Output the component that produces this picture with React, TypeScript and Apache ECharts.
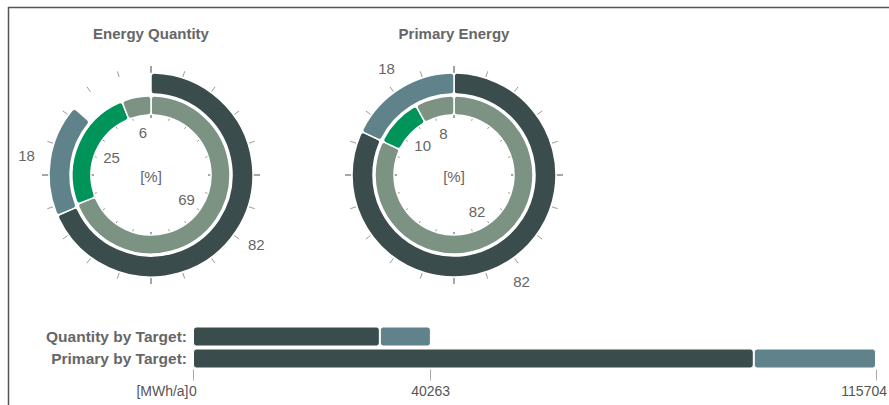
import React, { useEffect, useRef } from 'react';
import * as echarts from 'echarts';

// ---- data ----
const ringTitles = ['Energy Quantity', 'Primary Energy'];
const ringUnit = '[%]';
const innerColors = ['#7c9383', '#00935a', '#7c9383'];
const outerColors = ['#3a4c4b', '#60828a'];

const quantityInnerValues = [69, 25, 6];
const quantityOuterLabels = [82, 18];
const quantityOuterArcs = [68.5, 17.9]; // angular share of the circle as drawn

const primaryInnerValues = [82, 10, 8];
const primaryOuterValues = [82, 18];

const barCategories = ['Quantity by Target:', 'Primary by Target:'];
const barByTarget = [31650, 95000];
const barAboveTarget = [8650, 20704];
const axisTickValues = [0, 40263, 115704];
const axisUnit = '[MWh/a]';

const FONT = 'Liberation Sans, Arial, Helvetica, sans-serif';
const TXT = '#666';

function ringSeries(center: number[], radius: number[], values: number[], colors: string[]) {
  const total = values.reduce((a, b) => a + b, 0);
  const data: any[] = values.map((v, i) => ({
    value: v,
    name: String(i),
    itemStyle: { color: colors[i], borderRadius: 3, borderColor: '#fff', borderWidth: 1.5 },
  }));
  if (total < 100) {
    data.push({ value: 100 - total, name: 'gap', itemStyle: { color: 'rgba(0,0,0,0)', borderWidth: 0 } });
  }
  return {
    type: 'pie',
    center,
    radius,
    startAngle: 90,
    clockwise: true,
    silent: true,
    z: 3,
    label: { show: false },
    labelLine: { show: false },
    emphasis: { disabled: true },
    data,
  };
}

function labelSeries(center: number[], radius: number[], values: number[], labels: (number | string)[]) {
  const total = values.reduce((a, b) => a + b, 0);
  const data: any[] = values.map((v, i) => ({ value: v, name: String(labels[i]) }));
  if (total < 100) {
    data.push({ value: 100 - total, name: '', label: { show: false } });
  }
  return {
    type: 'pie',
    center,
    radius,
    startAngle: 90,
    clockwise: true,
    silent: true,
    z: 4,
    avoidLabelOverlap: false,
    itemStyle: { color: 'rgba(0,0,0,0)' },
    label: { show: true, position: 'inside', formatter: '{b}', fontSize: 15, color: TXT, fontFamily: FONT },
    labelLine: { show: false },
    emphasis: { disabled: true },
    data,
  };
}

function tickGauge(center: number[], radius: number, splitLen: number, tickLen: number) {
  return {
    type: 'gauge',
    center,
    radius,
    startAngle: 90,
    endAngle: -270,
    min: 0,
    max: 100,
    splitNumber: 4,
    silent: true,
    z: 1,
    axisLine: { show: false, lineStyle: { width: 0 } },
    progress: { show: false },
    pointer: { show: false },
    anchor: { show: false },
    title: { show: false },
    detail: { show: false },
    axisLabel: { show: false },
    splitLine: { show: true, length: splitLen, distance: 0, lineStyle: { color: '#9a9a9a', width: 1 } },
    axisTick: { show: true, splitNumber: 5, length: tickLen, distance: 0, lineStyle: { color: '#9a9a9a', width: 1 } },
    data: [],
  };
}

export default function App() {
  const ref = useRef<HTMLDivElement>(null);
  useEffect(() => {
    if (!ref.current) return;
    const chart = echarts.init(ref.current, undefined, { renderer: 'svg' });
    const cL = [151, 175];
    const cR = [454, 175];
    const innerR = [60, 79];
    const outerR = [81, 102];
    const axisMax = axisTickValues[axisTickValues.length - 1];

    const option: any = {
      animation: false,
      textStyle: { fontFamily: FONT },
      graphic: [
        { type: 'line', shape: { x1: 8, y1: 7.5, x2: 889, y2: 7.5 }, style: { stroke: '#555', lineWidth: 1.5 } },
        { type: 'line', shape: { x1: 8.5, y1: 7, x2: 8.5, y2: 405 }, style: { stroke: '#555', lineWidth: 1.5 } },
        { type: 'text', x: cL[0], y: 33, style: { text: ringTitles[0], align: 'center', verticalAlign: 'middle', fontSize: 15, fontWeight: 'bold', fill: TXT, fontFamily: FONT } },
        { type: 'text', x: cR[0], y: 33, style: { text: ringTitles[1], align: 'center', verticalAlign: 'middle', fontSize: 15, fontWeight: 'bold', fill: TXT, fontFamily: FONT } },
        { type: 'text', x: cL[0], y: 176, style: { text: ringUnit, align: 'center', verticalAlign: 'middle', fontSize: 15, fill: TXT, fontFamily: FONT } },
        { type: 'text', x: cR[0], y: 176, style: { text: ringUnit, align: 'center', verticalAlign: 'middle', fontSize: 15, fill: TXT, fontFamily: FONT } },
        { type: 'text', x: 188.5, y: 391, style: { text: axisUnit, align: 'right', verticalAlign: 'middle', fontSize: 14, fill: '#555', fontFamily: FONT } },
        { type: 'text', x: 887, y: 391, style: { text: String(axisMax), align: 'right', verticalAlign: 'middle', fontSize: 14, fill: '#555', fontFamily: FONT } },
      ],
      grid: { left: 193, width: 683, top: 325.5, height: 44, containLabel: false, outerBoundsMode: 'none' },
      xAxis: {
        type: 'value',
        min: 0,
        max: axisMax,
        splitLine: { show: false },
        axisLine: { show: false },
        axisTick: { show: true, length: 11, customValues: axisTickValues, lineStyle: { color: '#aaa' } },
        axisLabel: { customValues: axisTickValues.slice(0, -1), fontSize: 14, color: '#555', margin: 14, fontFamily: FONT, formatter: (v: number) => String(v) },
      },
      yAxis: {
        type: 'category',
        inverse: true,
        data: barCategories,
        axisLine: { show: false },
        axisTick: { show: false },
        axisLabel: { fontSize: 15.5, fontWeight: 'bold', color: TXT, margin: 6, fontFamily: FONT },
      },
      series: [
        tickGauge(cL, 109, 7, 6),
        tickGauge(cL, 62, 5, 5),
        tickGauge(cR, 109, 7, 6),
        tickGauge(cR, 62, 5, 5),
        ringSeries(cL, innerR, quantityInnerValues, innerColors),
        ringSeries(cL, outerR, quantityOuterArcs, outerColors),
        ringSeries(cR, innerR, primaryInnerValues, innerColors),
        ringSeries(cR, outerR, primaryOuterValues, outerColors),
        labelSeries(cL, [30, 50], quantityInnerValues, quantityInnerValues),
        labelSeries(cL, [113, 133], quantityOuterArcs, quantityOuterLabels),
        labelSeries(cR, [30, 50], primaryInnerValues, primaryInnerValues),
        labelSeries(cR, [113, 133], primaryOuterValues, primaryOuterValues),
        {
          type: 'bar',
          stack: 'total',
          barWidth: 20,
          silent: true,
          data: barByTarget,
          itemStyle: { color: outerColors[0], borderRadius: 3, borderColor: '#fff', borderWidth: 1 },
        },
        {
          type: 'bar',
          stack: 'total',
          barWidth: 20,
          silent: true,
          data: barAboveTarget,
          itemStyle: { color: outerColors[1], borderRadius: 3, borderColor: '#fff', borderWidth: 1 },
        },
      ],
    };
    chart.setOption(option);
    return () => chart.dispose();
  }, []);
  return <div ref={ref} style={{ position: 'absolute', left: 0, top: 0, width: 889, height: 405 }} />;
}
